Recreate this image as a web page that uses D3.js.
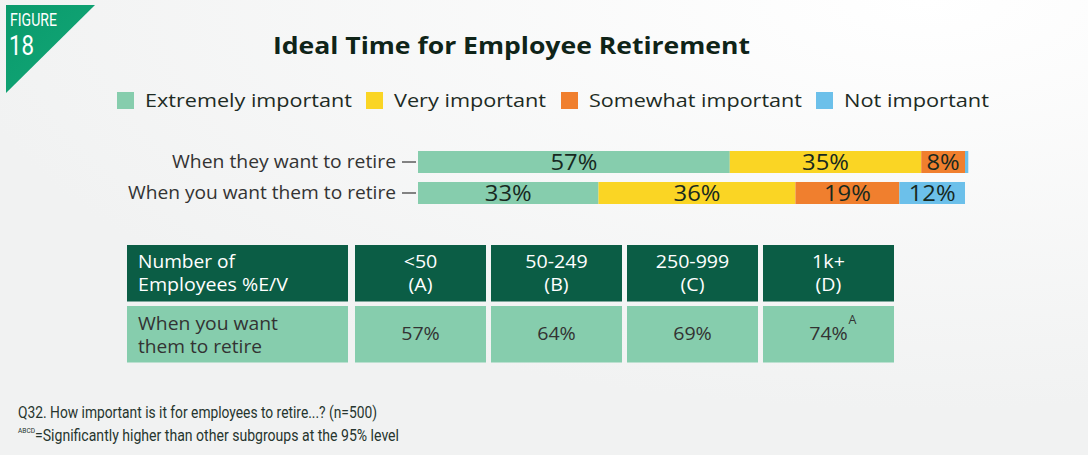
<!DOCTYPE html>
<html>
<head>
<meta charset="utf-8">
<script src="https://cdn.jsdelivr.net/npm/d3@7"></script>
<style>
  html, body { margin: 0; padding: 0; }
  body { width: 1088px; height: 455px; overflow: hidden; }
  svg { display: block; }
</style>
</head>
<body>
<svg id="chart" width="1088" height="455"></svg>
<script>
// Importance levels (stack order, left to right)
const levels = ["Extremely important", "Very important", "Somewhat important", "Not important"];
const levelColors = ["#86cdad", "#fad524", "#f07f2e", "#6cc0ea"];

// Survey items and their shares for each level (%)
const items = ["When they want to retire", "When you want them to retire"];
const extremely = [57, 33];
const very = [35, 36];
const somewhat = [8, 19];
const notImp = [0.6, 12];
// Printed labels per segment (blank where none is shown)
const segLabels = [["57%", "35%", "8%", ""], ["33%", "36%", "19%", "12%"]];

// Company-size breakdown table
const sizeHeaders = [["<50", "(A)"], ["50-249", "(B)"], ["250-999", "(C)"], ["1k+", "(D)"]];
const sizeValues = [57, 64, 69, 74];
const sizeSig = ["", "", "", "A"];

const svg = d3.select("#chart");
const W = 1088, H = 455;
const font = "'Open Sans', 'Noto Sans', sans-serif";
const narrow = "'Liberation Sans Narrow', 'Roboto', sans-serif";

// Squeeze or stretch a text node to a given width
function fitWidth(sel, w) {
  sel.attr("textLength", w).attr("lengthAdjust", "spacingAndGlyphs");
  return sel;
}
// Widen every text in a selection by a factor of its natural width
function widen(sel, k) {
  sel.each(function () {
    const len = this.getComputedTextLength();
    if (len > 0) d3.select(this).attr("textLength", len * k).attr("lengthAdjust", "spacingAndGlyphs");
  });
  return sel;
}

// Background
const defs = svg.append("defs");
const bg = defs.append("radialGradient").attr("id", "bg")
  .attr("cx", "85%").attr("cy", "0%").attr("r", "90%");
bg.append("stop").attr("offset", "0%").attr("stop-color", "#ffffff");
bg.append("stop").attr("offset", "100%").attr("stop-color", "#f1f2f2");
svg.append("rect").attr("width", W).attr("height", H).attr("fill", "url(#bg)");

// Figure badge
const badge = defs.append("linearGradient").attr("id", "badge")
  .attr("x1", "0").attr("y1", "0").attr("x2", "1").attr("y2", "1");
badge.append("stop").attr("offset", "0%").attr("stop-color", "#0a9a6c");
badge.append("stop").attr("offset", "100%").attr("stop-color", "#13a877");
svg.append("path").attr("d", "M6,5 L95,5 L6,93 Z").attr("fill", "url(#badge)");
fitWidth(svg.append("text").attr("x", 10).attr("y", 26)
  .attr("font-family", narrow).attr("font-size", 18).attr("fill", "#fff").text("FIGURE"), 47);
fitWidth(svg.append("text").attr("x", 9).attr("y", 55)
  .attr("font-family", narrow).attr("font-size", 27).attr("fill", "#fff").text("18"), 25);

// Title
fitWidth(svg.append("text").attr("x", 273).attr("y", 54)
  .attr("font-family", font).attr("font-weight", 700).attr("font-size", 24)
  .attr("fill", "#0f2418").text("Ideal Time for Employee Retirement"), 477);

// Legend
const legendX = [117, 366, 561, 816];
const legendW = [207, 152, 213, 145];
const legend = svg.append("g");
levels.forEach((lv, i) => {
  const g = legend.append("g").attr("transform", `translate(${legendX[i]},92)`);
  g.append("rect").attr("width", 17).attr("height", 17).attr("fill", levelColors[i]);
  fitWidth(g.append("text").attr("x", 28).attr("y", 15).attr("font-family", font)
    .attr("font-size", 19).attr("fill", "#1d2b24").text(lv), legendW[i]);
});

// Stacked bars
const rows = items.map((name, i) => ({
  name, values: [extremely[i], very[i], somewhat[i], notImp[i]]
}));
const stackData = rows.map(r => {
  const o = { name: r.name };
  levels.forEach((lv, j) => o[lv] = r.values[j]);
  return o;
});
const series = d3.stack().keys(levels)(stackData);

const x = d3.scaleLinear().domain([0, 100]).range([418, 965]);
const y = d3.scaleBand().domain(items).range([151, 204]).paddingInner(0.29).paddingOuter(0);

const bars = svg.append("g");
series.forEach((s, j) => {
  bars.selectAll(null).data(s).join("rect")
    .attr("x", d => x(d[0])).attr("y", d => y(d.data.name))
    .attr("width", d => x(d[1]) - x(d[0])).attr("height", y.bandwidth())
    .attr("fill", levelColors[j]);
  const lbl = bars.selectAll(null).data(s).join("text")
    .attr("x", d => (x(d[0]) + x(d[1])) / 2)
    .attr("y", d => y(d.data.name) + y.bandwidth() / 2 + 8)
    .attr("text-anchor", "middle").attr("font-family", font).attr("font-size", 22)
    .attr("fill", "#17291f")
    .text((d, i) => segLabels[i][j]);
  widen(lbl, 1.08);
});

// Category axis
const axisW = [224, 268];
const yAxis = d3.axisLeft(y).tickSize(14).tickPadding(6);
const ax = svg.append("g").attr("transform", "translate(416,0)").call(yAxis);
ax.select(".domain").remove();
ax.selectAll(".tick line").attr("stroke", "#444").attr("stroke-width", 1.3);
ax.selectAll(".tick text").attr("font-family", font).attr("font-size", 18)
  .attr("fill", "#333").attr("dy", "0.35em")
  .attr("textLength", (d, i) => axisW[i]).attr("lengthAdjust", "spacingAndGlyphs");

// Table
const colX = [[127, 348], [355, 486], [491, 622], [627, 758], [763, 894]];
const rowY = [[245, 301.5], [306, 362.5]];
const table = svg.append("g");
colX.forEach((c, ci) => {
  table.append("rect").attr("x", c[0]).attr("y", rowY[0][0])
    .attr("width", c[1] - c[0]).attr("height", rowY[0][1] - rowY[0][0]).attr("fill", "#0b5d45");
  table.append("rect").attr("x", c[0]).attr("y", rowY[1][0])
    .attr("width", c[1] - c[0]).attr("height", rowY[1][1] - rowY[1][0]).attr("fill", "#86cdad");
});
const cellText = (x0, y0, txt, color, anchor, w) => {
  const t = table.append("text").attr("x", x0).attr("y", y0)
    .attr("text-anchor", anchor).attr("font-family", font).attr("font-size", 17.5)
    .attr("fill", color).text(txt);
  if (w) fitWidth(t, w); else widen(t, 1.12);
  return t;
};
cellText(138, 268, "Number of", "#fff", "start", 97);
cellText(138, 291, "Employees %E/V", "#fff", "start", 150);
cellText(138, 330, "When you want", "#333", "start", 140);
cellText(138, 353, "them to retire", "#333", "start", 124);

sizeHeaders.forEach((h, i) => {
  const cx = (colX[i + 1][0] + colX[i + 1][1]) / 2;
  cellText(cx, 268, h[0], "#fff", "middle");
  cellText(cx, 291, h[1], "#fff", "middle");
  cellText(cx, 340, sizeValues[i] + "%", "#333", "middle");
  if (sizeSig[i]) {
    table.append("text").attr("x", cx + 20).attr("y", 324)
      .attr("font-family", font).attr("font-size", 12.5).attr("fill", "#333").text(sizeSig[i]);
  }
});

// Footnotes
fitWidth(svg.append("text").attr("x", 18).attr("y", 418).attr("font-family", narrow)
  .attr("font-size", 16).attr("fill", "#26352e")
  .text("Q32. How important is it for employees to retire...? (n=500)"), 359);
svg.append("text").attr("x", 18).attr("y", 433).attr("font-family", narrow)
  .attr("font-size", 7).attr("fill", "#26352e").text("ABCD")
  .attr("textLength", 17).attr("lengthAdjust", "spacingAndGlyphs");
fitWidth(svg.append("text").attr("x", 35).attr("y", 441).attr("font-family", narrow)
  .attr("font-size", 16).attr("fill", "#26352e")
  .text("=Significantly higher than other subgroups at the 95% level"), 364);
</script>
</body>
</html>
